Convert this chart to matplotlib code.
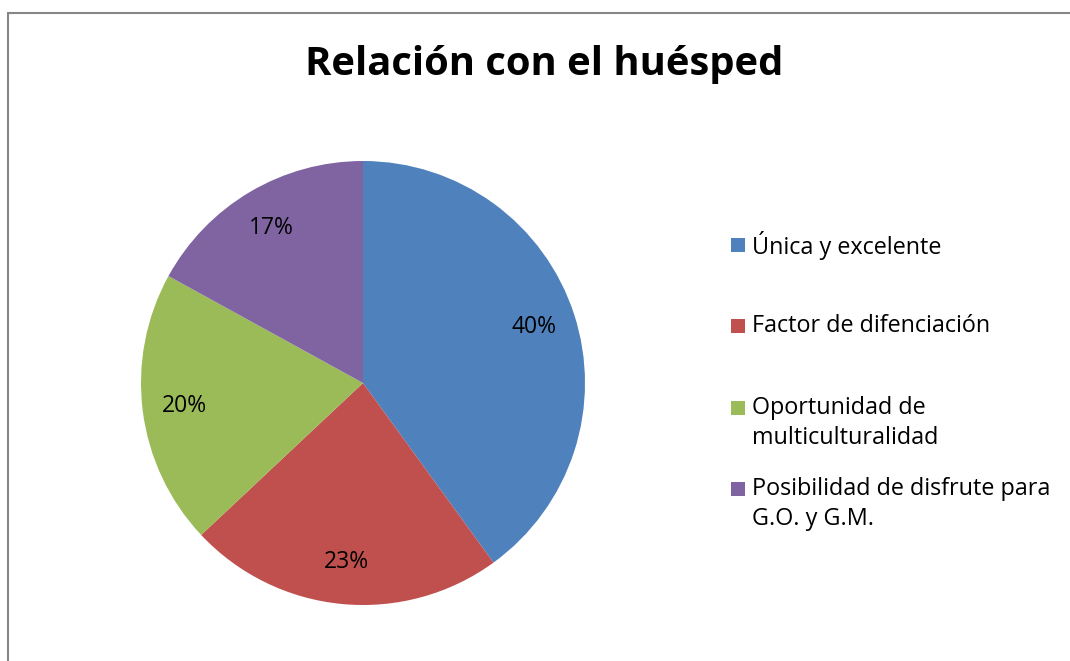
import matplotlib
matplotlib.use("Agg")
import matplotlib.pyplot as plt
from matplotlib.patches import Rectangle

plt.rcParams['font.family'] = ['Open Sans', 'DejaVu Sans']

categorias = ["Única y excelente", "Factor de difenciación",
              "Oportunidad de\nmulticulturalidad",
              "Posibilidad de disfrute para\nG.O. y G.M."]
valores = [40, 23, 20, 17]
colores = ["#4F81BD", "#C0504D", "#9BBB59", "#8064A2"]
titulo = "Relación con el huésped"

W, H = 1070, 661
fig = plt.figure(figsize=(W / 100, H / 100), dpi=100)

# chart border (only top and left visible)
fig.add_artist(Rectangle((8 / W, -0.1), 1.2, 1 - 13 / H + 0.1,
                         transform=fig.transFigure, fill=False,
                         edgecolor="#868686", linewidth=1.5))

ax = fig.add_axes([141 / W, 56 / H, 444 / W, 444 / H])
wedges, texts, autotexts = ax.pie(valores, colors=colores, startangle=90,
                                  counterclock=False, autopct="%d%%",
                                  pctdistance=0.81,
                                  textprops={"fontsize": 16.5, "color": "black"})
ax.set_xlim(-1, 1)
ax.set_ylim(-1, 1)
ax.set_aspect("equal")
ax.axis("off")

fig.text(544 / W, 1 - 64 / H, titulo, ha="center", va="center",
         fontsize=28.8, fontweight="bold")

# legend drawn by hand so the swatch sits on the first line of each label
y0, paso, interlinea = 245, 81.3, 30
for i, (lab, col) in enumerate(zip(categorias, colores)):
    yc = y0 + i * paso
    fig.add_artist(Rectangle((731 / W, 1 - (yc + 7) / H), 14 / W, 14 / H,
                             transform=fig.transFigure, facecolor=col,
                             edgecolor="none"))
    for j, linea in enumerate(lab.split("\n")):
        fig.text(752 / W, 1 - (yc + j * interlinea) / H, linea,
                 ha="left", va="center", fontsize=16.8)

fig.savefig("out.png", dpi=100)
